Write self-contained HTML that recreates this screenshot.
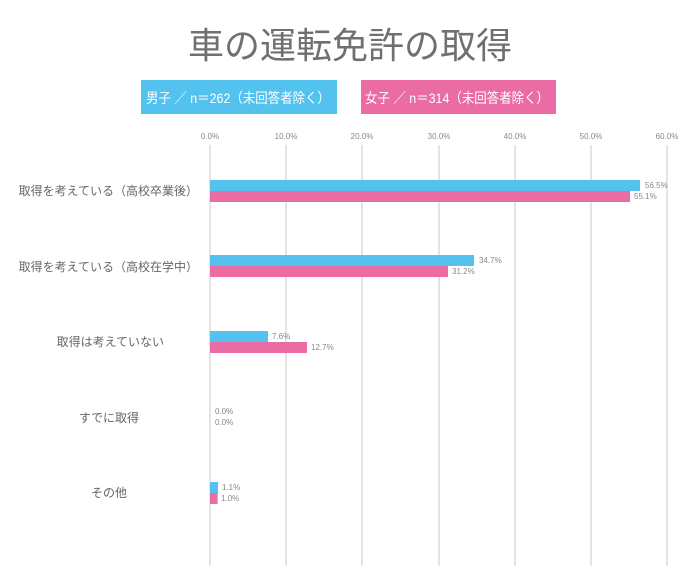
<!DOCTYPE html>
<html><head><meta charset="utf-8"><style>
body{margin:0;background:#fff;}
svg text{font-family:"Liberation Sans","Noto Sans CJK JP",sans-serif;}
</style></head><body>
<svg width="700" height="571" xmlns="http://www.w3.org/2000/svg">
<text x="350" y="58" text-anchor="middle" font-size="36" fill="#707070">車の運転免許の取得</text>
<rect x="141" y="80" width="196" height="34" fill="#53c2ef"/>
<text x="146" y="103" font-size="14" fill="#fff" textLength="184" lengthAdjust="spacingAndGlyphs">男子 ／ n＝262（未回答者除く）</text>
<rect x="361" y="80" width="195" height="34" fill="#eb6ca4"/>
<text x="365" y="103" font-size="14" fill="#fff" textLength="184" lengthAdjust="spacingAndGlyphs">女子 ／ n＝314（未回答者除く）</text>
<g font-size="8" fill="#888" text-anchor="middle">
<text x="210" y="139">0.0%</text><text x="286" y="139">10.0%</text><text x="362" y="139">20.0%</text><text x="439" y="139">30.0%</text><text x="515" y="139">40.0%</text><text x="591" y="139">50.0%</text><text x="667" y="139">60.0%</text>
</g>
<g stroke="#dcdcdc" stroke-width="1.5">
<line x1="210" y1="145" x2="210" y2="566"/><line x1="286" y1="145" x2="286" y2="566"/><line x1="362" y1="145" x2="362" y2="566"/><line x1="439" y1="145" x2="439" y2="566"/><line x1="515" y1="145" x2="515" y2="566"/><line x1="591" y1="145" x2="591" y2="566"/><line x1="667" y1="145" x2="667" y2="566"/>
</g>
<g fill="#53c2ef">
<rect x="210" y="180" width="430" height="11"/><rect x="210" y="255" width="264" height="11"/><rect x="210" y="331" width="58" height="11"/><rect x="210" y="482" width="8" height="11"/>
</g>
<g fill="#eb6ca4">
<rect x="210" y="191" width="420" height="11"/><rect x="210" y="266" width="238" height="11"/><rect x="210" y="342" width="97" height="11"/><rect x="210" y="493" width="7.6" height="11"/>
</g>
<g font-size="8" fill="#888">
<text x="645" y="188">56.5%</text><text x="634" y="199">55.1%</text>
<text x="479" y="263">34.7%</text><text x="452" y="274">31.2%</text>
<text x="272" y="339">7.6%</text><text x="311" y="350">12.7%</text>
<text x="215" y="414">0.0%</text><text x="215" y="425">0.0%</text>
<text x="222" y="490">1.1%</text><text x="221" y="501">1.0%</text>
</g>
<g font-size="12" fill="#666" text-anchor="end">
<text x="198" y="195">取得を考えている（高校卒業後）</text>
<text x="198" y="271">取得を考えている（高校在学中）</text>
<text x="164" y="346">取得は考えていない</text>
<text x="139" y="422">すでに取得</text>
<text x="127" y="497">その他</text>
</g>
</svg>
</body></html>
